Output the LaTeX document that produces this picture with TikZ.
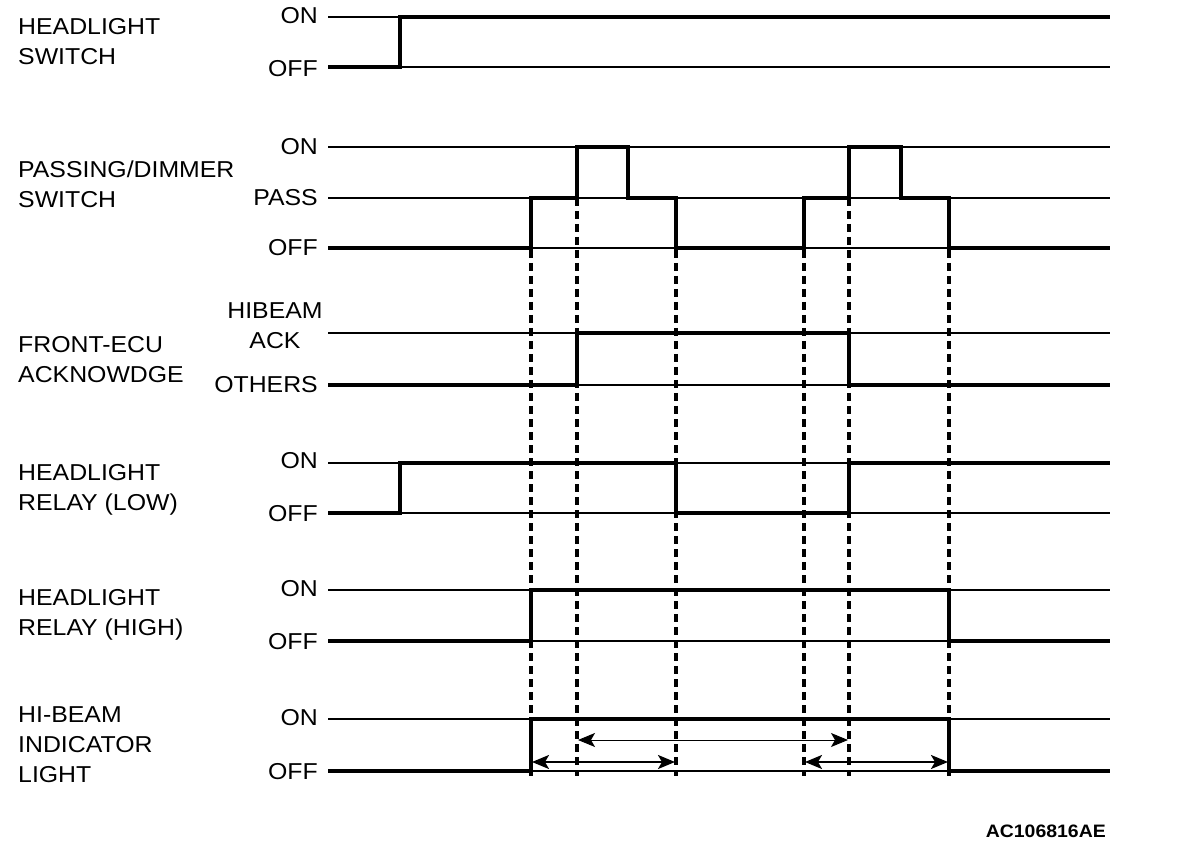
\documentclass[tikz,border=0pt]{standalone}
\usepackage{fontspec}
\setmainfont{Liberation Sans}[FakeStretch=1.08]
\usetikzlibrary{arrows.meta}
\begin{document}
\begin{tikzpicture}[x=1pt,y=-1pt,
  ref/.style={line width=1.1pt},
  sig/.style={line width=3.6pt, line join=miter},
  guide/.style={line width=3.2pt, dash pattern=on 8pt off 5pt},
  tip/.tip={Stealth[length=17pt,width=14pt,inset=4pt]},
  span/.style={{tip}-{tip}, shorten <=1pt, shorten >=1pt},
  lab/.style={font=\fontsize{23}{30}\selectfont, align=left, anchor=west, inner sep=0pt},
  lev/.style={font=\fontsize{23}{26}\selectfont, anchor=east, inner sep=0pt},
]
\useasboundingbox (0,0) rectangle (1184,850);

% ---------- signal names ----------
\node[lab] (n1) at (18,42)  {HEADLIGHT\\SWITCH};
\node[lab] (n2) at (18,184) {PASSING/DIMMER\\SWITCH};
\node[lab] (n3) at (18,360) {FRONT-ECU\\ACKNOWDGE};
\node[lab] (n4) at (18,490) {HEADLIGHT\\RELAY (LOW)};
\node[lab] (n5) at (18,615) {HEADLIGHT\\RELAY (HIGH)};
\node[lab] (n6) at (18,745) {HI-BEAM\\INDICATOR\\LIGHT};

% ---------- level names ----------
\node[lev] (l1a) at (318,16)  {ON};
\node[lev] (l1b) at (318,69)  {OFF};
\node[lev] (l2a) at (318,147) {ON};
\node[lev] (l2b) at (318,198) {PASS};
\node[lev] (l2c) at (318,248) {OFF};
\node[lev, anchor=center, align=center, font=\fontsize{23}{30}\selectfont] (l3a) at (275,326) {HIBEAM\\ACK};
\node[lev] (l3b) at (318,385) {OTHERS};
\node[lev] (l4a) at (318,461) {ON};
\node[lev] (l4b) at (318,514) {OFF};
\node[lev] (l5a) at (318,589) {ON};
\node[lev] (l5b) at (318,642) {OFF};
\node[lev] (l6a) at (318,718) {ON};
\node[lev] (l6b) at (318,772) {OFF};

% ---------- reference lines ----------
\foreach \y in {17,67,147,198,248,333,385,463,513,590,641,719,771}
  \draw[ref] (328,\y) -- (1110,\y);

% ---------- guide lines ----------
\draw[guide] (531,250) -- (531,776);
\draw[guide] (577,198) -- (577,776);
\draw[guide] (676,250) -- (676,776);
\draw[guide] (804,250) -- (804,776);
\draw[guide] (849,198) -- (849,776);
\draw[guide] (949,250) -- (949,776);

% ---------- signals ----------
\draw[sig] (328,67) -- (400,67) -- (400,17) -- (1110,17);
\draw[sig] (328,248) -- (531,248) -- (531,198) -- (577,198) -- (577,147) -- (628,147) -- (628,198) -- (676,198) -- (676,248) -- (804,248) -- (804,198) -- (849,198) -- (849,147) -- (901,147) -- (901,198) -- (949,198) -- (949,248) -- (1110,248);
\draw[sig] (328,385) -- (577,385) -- (577,333) -- (849,333) -- (849,385) -- (1110,385);
\draw[sig] (328,513) -- (400,513) -- (400,463) -- (676,463) -- (676,513) -- (849,513) -- (849,463) -- (1110,463);
\draw[sig] (328,641) -- (531,641) -- (531,590) -- (949,590) -- (949,641) -- (1110,641);
\draw[sig] (328,771) -- (531,771) -- (531,719) -- (949,719) -- (949,771) -- (1110,771);

% ---------- time spans ----------
\coordinate (s1a) at (531,762);
\coordinate (s1b) at (676,762);
\coordinate (s2a) at (577,740);
\coordinate (s2b) at (849,740);
\coordinate (s3a) at (804,762);
\coordinate (s3b) at (949,762);
\draw[span, line width=2pt] (s1a) -- (s1b);
\draw[span, line width=1pt] (s2a) -- (s2b);
\draw[span, line width=2pt] (s3a) -- (s3b);

% ---------- code ----------
\node[font=\bfseries\fontsize{18}{20}\selectfont, anchor=east, inner sep=0pt] (code) at (1106,831) {AC106816AE};
\end{tikzpicture}
\end{document}
